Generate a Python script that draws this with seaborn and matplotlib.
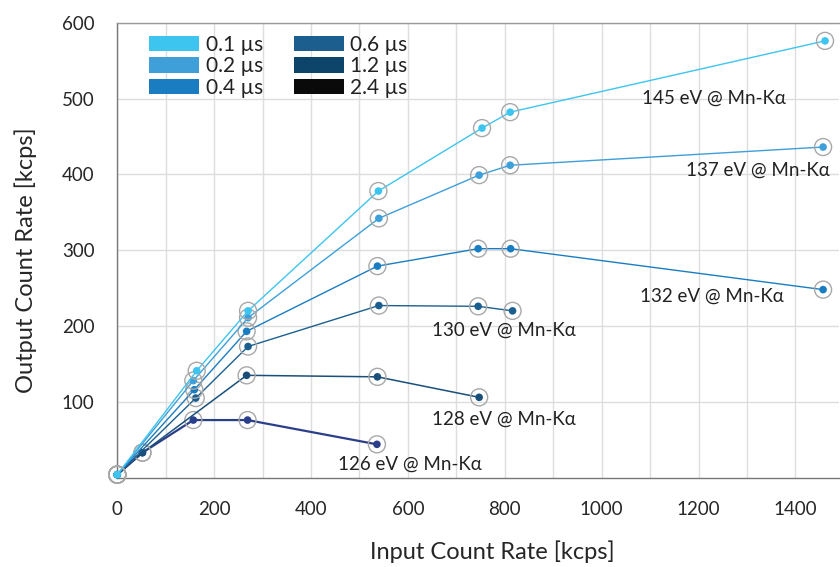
import numpy as np
import pandas as pd
import matplotlib
matplotlib.use("Agg")
import matplotlib.pyplot as plt
import matplotlib.patches as mpatches
from matplotlib.ticker import MultipleLocator
import seaborn as sns

# ---- data ----
durations = ["0.1 µs", "0.2 µs", "0.4 µs", "0.6 µs", "1.2 µs", "2.4 µs"]
icr_01 = [0, 164, 270, 539, 753, 811, 1461]
ocr_01 = [4, 141, 220, 378, 461, 482, 576]
icr_02 = [0, 157, 270, 540, 747, 811, 1457]
ocr_02 = [4, 128, 211, 342, 399, 412, 436]
icr_04 = [0, 159, 267, 537, 745, 812, 1457]
ocr_04 = [4, 116, 193, 279, 302, 302, 248]
icr_06 = [0, 162, 270, 540, 745, 816]
ocr_06 = [4, 105, 173, 227, 226, 220]
icr_12 = [0, 52, 267, 537, 747]
ocr_12 = [4, 33, 135, 133, 106]
icr_24 = [0, 52, 157, 269, 536]
ocr_24 = [4, 33, 76, 76, 44]
resolutions = ["145 eV @ Mn-Kα", "137 eV @ Mn-Kα", "132 eV @ Mn-Kα",
               "130 eV @ Mn-Kα", "128 eV @ Mn-Kα", "126 eV @ Mn-Kα"]

icr = [icr_01, icr_02, icr_04, icr_06, icr_12, icr_24]
ocr = [ocr_01, ocr_02, ocr_04, ocr_06, ocr_12, ocr_24]
frames = []
for d, xs, ys in zip(durations, icr, ocr):
    frames.append(pd.DataFrame({"Shaping": d, "ICR": xs, "OCR": ys,
                                "order": range(len(xs))}))
df = pd.concat(frames, ignore_index=True)

# ---- style ----
sns.set_theme(style="white")
plt.rcParams["font.family"] = ["Lato", "DejaVu Sans"]
plt.rcParams["text.color"] = "#222222"

legend_colors = ["#3DC5EF", "#3E9FD9", "#1B7DC1", "#1C5F8F", "#0D4469", "#0A0A0A"]
line_colors = ["#3DC5EF", "#3E9FD9", "#1B7DC1", "#1C5F8F", "#1A4F7A", "#2B3E8A"]
palette = dict(zip(durations, line_colors))
widths = dict(zip(durations, [1.0, 1.0, 1.0, 1.0, 1.1, 1.6]))

fig = plt.figure(figsize=(8.4, 5.67), dpi=100)
ax = fig.add_axes([0.1396, 0.1575, 0.8593, 0.8025])

n = len(durations)
for i, d in enumerate(reversed(durations)):
    sub = df[df["Shaping"] == d]
    z = 3 + i * 0.1
    sns.lineplot(data=sub, x="ICR", y="OCR", sort=False, color=palette[d],
                 lw=widths[d], ax=ax, legend=False, zorder=z)
    sns.scatterplot(data=sub, x="ICR", y="OCR", s=150, facecolor="none",
                    edgecolor="#A8A8A8", linewidth=1.0, ax=ax, legend=False,
                    zorder=z + 0.02, clip_on=False)
    sns.scatterplot(data=sub, x="ICR", y="OCR", s=30, color=palette[d],
                    edgecolor="none", ax=ax, legend=False, zorder=z + 0.04,
                    clip_on=False)

# annotations
ann_pos = [(1083, 501), (1174, 405), (1079, 239), (649, 195), (649, 77), (456, 18)]
for txt, (x, y) in zip(resolutions, ann_pos):
    ax.text(x, y, txt, fontsize=13.5, ha="left", va="center", zorder=6,
            family=["Lato", "DejaVu Sans"])

ax.set_xlim(0, 1490)
ax.set_ylim(0, 600)
ax.xaxis.set_major_locator(MultipleLocator(200))
ax.xaxis.set_minor_locator(MultipleLocator(100))
ax.set_yticks([100, 200, 300, 400, 500, 600])
ax.set_yticks(np.arange(0, 601, 20), minor=True)

for v in range(0, 1500, 100):
    ax.axvline(v, color="#DDDDDD", lw=1.0, zorder=0)
for v in range(100, 601, 100):
    ax.axhline(v, color="#DDDDDD", lw=1.0, zorder=0)

ax.tick_params(axis="both", which="major", direction="out", length=10.5,
               width=1.3, color="#333333", labelsize=13.5, pad=6)
ax.tick_params(axis="both", which="minor", direction="out", length=6,
               width=1.0, color="#333333")
ax.tick_params(axis="x", which="minor", length=5.5)
ax.spines["right"].set_visible(False)
ax.spines["top"].set_color("#999999")
ax.spines["left"].set_color("#777777")
ax.spines["bottom"].set_color("#777777")
for s in ax.spines.values():
    s.set_linewidth(1.0)

ax.set_xlabel("Input Count Rate [kcps]", fontsize=17)
ax.set_ylabel("Output Count Rate [kcps]", fontsize=17)
ax.xaxis.label.set_va("center")
ax.yaxis.label.set_va("center")
ax.xaxis.set_label_coords(0.519, -0.163)
ax.yaxis.set_label_coords(-0.127, 0.478)

handles = [mpatches.Patch(facecolor=c, edgecolor="none") for c in legend_colors]
leg = ax.legend(handles, durations, loc="upper left", ncol=2, frameon=False,
                fontsize=15, handlelength=2.4, handleheight=0.75,
                handletextpad=0.3, labelspacing=0.08, columnspacing=1.5,
                borderaxespad=0, bbox_to_anchor=(0.033, 0.992))

fig.savefig("out.png", dpi=100)
